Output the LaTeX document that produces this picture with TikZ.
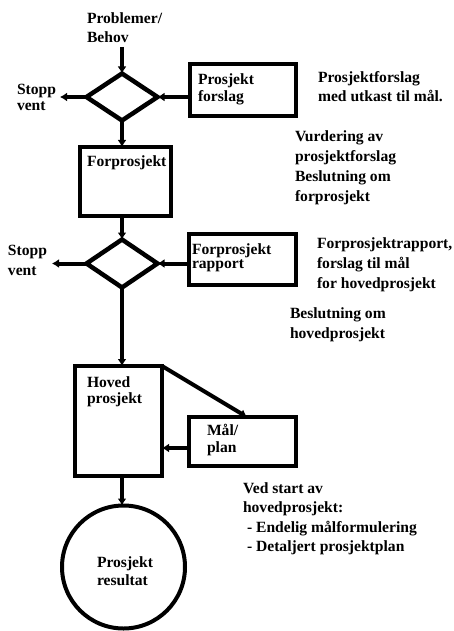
\documentclass[tikz,border=0pt]{standalone}
\usepackage{fontspec}
\setmainfont{Liberation Serif}
\usetikzlibrary{shapes.geometric,arrows.meta,calc}
\newcommand\tblock[2]{\vtop{\baselineskip=#1pt\lineskiplimit=-\maxdimen\lineskip=0pt\relax #2}}
\newcommand\tline[1]{\hbox{#1}}
\begin{document}
\begin{tikzpicture}[x=1pt,y=-1pt,
  every node/.style={font=\fontsize{15.6}{19}\selectfont\bfseries},
  txt/.style={anchor=base west, inner sep=0pt, outer sep=0pt},
  bx/.style={draw, line width=4pt, rectangle, inner sep=0pt, outer sep=0pt},
  dia/.style={draw, line width=4.5pt, diamond, inner sep=0pt, outer sep=0pt, aspect=1.5},
  arr/.style={line width=4pt, -{Latex[length=7pt,width=9pt]}}]
\fill[white] (0,0) rectangle (454,631);
\useasboundingbox (0,0) rectangle (454,631);

% shapes
\node[dia, minimum width=71pt, minimum height=47pt] (d1) at (122,97) {};
\node[dia, minimum width=71pt, minimum height=48pt] (d2) at (122,263.5) {};
\node[bx, minimum width=106pt, minimum height=52pt] (pfbox) at (243,90) {};
\node[bx, minimum width=91pt, minimum height=69pt] (forbox) at (125.5,181.5) {};
\node[bx, minimum width=107pt, minimum height=51pt] (fprbox) at (242.5,259.5) {};
\node[bx, minimum width=87pt, minimum height=110pt] (hoved) at (118.5,421) {};
\node[bx, minimum width=107pt, minimum height=49pt] (mal) at (242.5,441.5) {};
\node[draw, circle, line width=4pt, minimum size=123pt, inner sep=0pt, outer sep=0pt] (res) at (123.5,567) {};

% texts
\node[txt] (behov) at (87,24) {\tblock{19}{\tline{Problemer/}\tline{Behov}}};
\node[txt] (stopp1) at (17,95) {\tblock{16}{\tline{Stopp}\tline{vent}}};
\node[txt] (pfboxt) at (198,85) {\tblock{17}{\tline{Prosjekt}\tline{forslag}}};
\node[txt] (pftxt) at (318,83) {\tblock{19}{\tline{Prosjektforslag}\tline{med utkast til mål.}}};
\node[txt] (vurd) at (295,142) {\tblock{20}{\tline{Vurdering av}\tline{prosjektforslag}\tline{Beslutning om}\tline{forprosjekt}}};
\node[txt] (fort) at (87,167) {Forprosjekt};
\node[txt] (stopp2) at (8,255) {\tblock{20}{\tline{Stopp}\tline{vent}}};
\node[txt] (fprt) at (192,254) {\tblock{14.5}{\tline{Forprosjekt}\tline{rapport}}};
\node[txt] (fprtxt) at (317,248) {\tblock{20}{\tline{Forprosjektrapport,}\tline{forslag til mål}\tline{for hovedprosjekt}}};
\node[txt] (besl) at (290,318) {\tblock{20}{\tline{Beslutning om}\tline{hovedprosjekt}}};
\node[txt] (hovedt) at (87,387) {\tblock{16}{\tline{Hoved}\tline{prosjekt}}};
\node[txt] (malt) at (207,435) {\tblock{17}{\tline{Mål/}\tline{plan}}};
\node[txt] (ved) at (243,493) {\tblock{19.5}{\tline{Ved start av}\tline{hovedprosjekt:}\tline{\hspace{4pt}- Endelig målformulering}\tline{\hspace{4pt}- Detaljert prosjektplan}}};
\node[txt] (rest) at (97,567) {\tblock{18}{\tline{Prosjekt}\tline{resultat}}};

% connectors
\coordinate (c0) at (122,47);
\coordinate (s1) at (60,97);
\coordinate (s2) at (52,263.5);
\coordinate (m1) at ([xshift=58pt]mal.north west);
\coordinate (m0) at ([yshift=-6.5pt]mal.west);
\coordinate (h0) at (hoved.east |- m0);
\coordinate (h1) at (122,476);
\coordinate (r0) at (h1 |- res.north);
\draw[arr] (c0) -- (d1.north);
\draw[arr] (d1.west) -- (s1);
\draw[arr] (pfbox.west |- d1.east) -- (d1.east);
\draw[arr] (d1.south) -- (d1.south |- forbox.north);
\draw[arr] (forbox.south -| d2.north) -- (d2.north);
\draw[arr] (d2.west) -- (s2);
\draw[arr] (fprbox.west |- d2.east) -- (d2.east);
\draw[arr] (d2.south) -- (d2.south |- hoved.north);
\draw[arr] (hoved.north east) -- (m1);
\draw[arr] (m0) -- (h0);
\draw[arr] (h1) -- (r0);
\end{tikzpicture}
\end{document}
